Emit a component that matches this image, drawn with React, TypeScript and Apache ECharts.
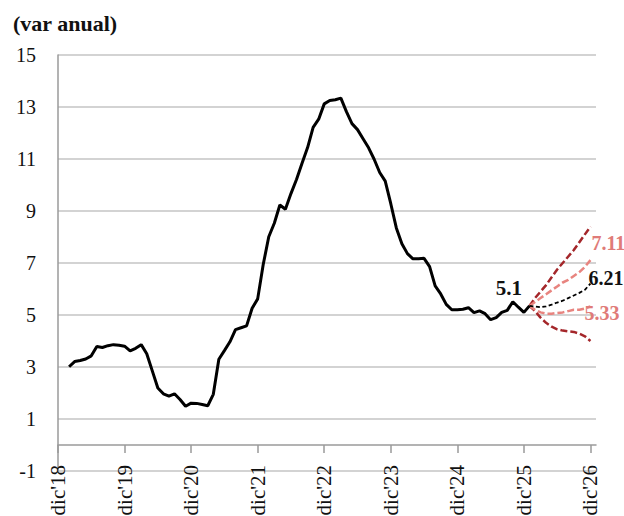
import React, { useEffect, useRef } from "react";
import * as echarts from "echarts";

const MONTHS = ["ene", "feb", "mar", "abr", "may", "jun", "jul", "ago", "sep", "oct", "nov", "dic"];

// monthly categories from dic'18 to ene'27
const categories: string[] = [];
for (let y = 2018; y <= 2027; y++) {
  for (let m = 0; m < 12; m++) {
    if ((y === 2018 && m < 11) || (y === 2027 && m > 0)) continue;
    categories.push(`${MONTHS[m]}'${String(y).slice(2)}`);
  }
}

const yTicks = [-1, 1, 3, 5, 7, 9, 11, 13, 15];

// actual annual variation, feb'19 .. ene'26
const actualStart = "feb'19";
const actual = [
  3.01, 3.21, 3.25, 3.31, 3.43, 3.79, 3.75, 3.82, 3.86, 3.84, 3.8,
  3.62, 3.72, 3.86, 3.51, 2.85, 2.19, 1.97, 1.88, 1.97, 1.75, 1.49, 1.61,
  1.6, 1.56, 1.51, 1.95, 3.3, 3.63, 3.97, 4.44, 4.51, 4.58, 5.26, 5.62,
  6.94, 8.01, 8.53, 9.23, 9.07, 9.67, 10.21, 10.84, 11.44, 12.22, 12.53, 13.12,
  13.25, 13.28, 13.34, 12.82, 12.36, 12.13, 11.78, 11.43, 10.99, 10.48, 10.15, 9.28,
  8.35, 7.74, 7.36, 7.16, 7.16, 7.18, 6.86, 6.12, 5.81, 5.41, 5.2, 5.2,
  5.22, 5.28, 5.09, 5.16, 5.05, 4.82, 4.9, 5.1, 5.18, 5.51, 5.3, 5.1,
  5.35,
];
const labelledMonth = "dic'25";
const labelledValue = 5.1;

// forecasts, ene'26 .. dic'26
const forecastStart = "ene'26";
const darkUpper = [5.35, 5.65, 5.9, 6.15, 6.45, 6.75, 7.0, 7.25, 7.5, 7.8, 8.1, 8.4];
const pinkUpper = [5.35, 5.5, 5.65, 5.8, 5.95, 6.1, 6.25, 6.35, 6.5, 6.65, 6.85, 7.11];
const central = [5.35, 5.33, 5.3, 5.33, 5.4, 5.48, 5.55, 5.65, 5.75, 5.85, 5.97, 6.21];
const pinkLower = [5.35, 5.2, 5.1, 5.05, 5.05, 5.08, 5.1, 5.15, 5.2, 5.2, 5.25, 5.33];
const darkLower = [5.35, 5.15, 4.9, 4.7, 4.55, 4.45, 4.4, 4.37, 4.35, 4.28, 4.18, 4.0];

const FONT = "'Liberation Serif', 'DejaVu Serif', serif";
const DARK_RED = "#A4262A";
const PINK = "#E8847F";
const PINK_TEXT = "#E07B78";

function pad(startCat: string, values: any[]) {
  const start = categories.indexOf(startCat);
  const out: any[] = [];
  for (let i = 0; i < start; i++) out.push(null);
  return out.concat(values);
}

export default function App() {
  const ref = useRef<HTMLDivElement>(null);

  useEffect(() => {
    if (!ref.current) return;
    const chart = echarts.init(ref.current, undefined, { renderer: "svg" });

    const fcSeries = (
      name: string,
      values: number[],
      color: string,
      width: number,
      dash: number[],
      z: number,
      endLabel?: any
    ) => ({
      name,
      type: "line",
      data: pad(forecastStart, values),
      showSymbol: false,
      symbol: "none",
      connectNulls: false,
      z,
      lineStyle: { color, width, type: dash },
      endLabel: endLabel
        ? {
            show: true,
            fontFamily: FONT,
            fontSize: 20,
            fontWeight: "bold",
            distance: 1,
            ...endLabel,
          }
        : { show: false },
    });

    chart.setOption({
      animation: false,
      backgroundColor: "#ffffff",
      title: {
        text: "(var anual)",
        left: 8,
        top: 7,
        textStyle: { fontFamily: FONT, fontSize: 22, fontWeight: "bold", color: "#111" },
      },
      grid: {
        left: 58,
        right: 28,
        top: 55,
        bottom: 45,
        containLabel: false,
        outerBoundsMode: "none",
      },
      xAxis: {
        type: "category",
        data: categories,
        boundaryGap: false,
        axisLine: { onZero: true, lineStyle: { color: "#9a9a9a", width: 1.5 } },
        axisTick: {
          show: true,
          length: 8,
          interval: (i: number) => i % 12 === 0,
          lineStyle: { color: "#9a9a9a", width: 1.5 },
        },
        axisLabel: {
          interval: (i: number) => i % 12 === 0,
          rotate: 90,
          margin: -6,
          fontFamily: FONT,
          fontSize: 21,
          color: "#111",
        },
        splitLine: { show: false },
      },
      yAxis: {
        type: "value",
        min: -1,
        max: 15,
        axisLine: { show: true, lineStyle: { color: "#9a9a9a", width: 1.5 } },
        axisTick: { show: false, customValues: yTicks },
        axisLabel: {
          customValues: yTicks,
          margin: 22,
          fontFamily: FONT,
          fontSize: 20,
          color: "#111",
        },
        splitLine: { show: true, lineStyle: { color: "#c4c4c4", width: 1.5 } },
      },
      series: [
        {
          name: "actual",
          type: "line",
          data: pad(actualStart, actual),
          showSymbol: false,
          symbol: "none",
          z: 5,
          lineStyle: { color: "#000000", width: 3 },
          markPoint: {
            symbol: "circle",
            symbolSize: 0,
            silent: true,
            data: [{ coord: [labelledMonth, labelledValue], value: labelledValue }],
            label: {
              show: true,
              position: "top",
              distance: 5,
              offset: [-15, -9],
              formatter: String(labelledValue),
              fontFamily: FONT,
              fontSize: 21,
              fontWeight: "bold",
              color: "#111",
            },
          },
        },
        fcSeries("darkUpper", darkUpper, DARK_RED, 2.5, [7, 3], 3),
        fcSeries("darkLower", darkLower, DARK_RED, 2.5, [7, 3], 3),
        fcSeries("pinkUpper", pinkUpper, PINK, 2.5, [7, 3], 4, {
          formatter: "7.11",
          color: PINK_TEXT,
          offset: [0, -17],
        }),
        fcSeries("pinkLower", pinkLower, PINK, 2.5, [7, 3], 4, {
          formatter: "5.33",
          color: PINK_TEXT,
          offset: [-7, 7],
        }),
        fcSeries("central", central, "#000000", 1.8, [4, 2.5], 6, {
          formatter: "6.21",
          color: "#111",
          offset: [-3, -6],
        }),
      ],
    });

    return () => chart.dispose();
  }, []);

  return (
    <div
      ref={ref}
      style={{ position: "absolute", left: 0, top: 0, width: 624, height: 516, background: "#fff" }}
    />
  );
}
